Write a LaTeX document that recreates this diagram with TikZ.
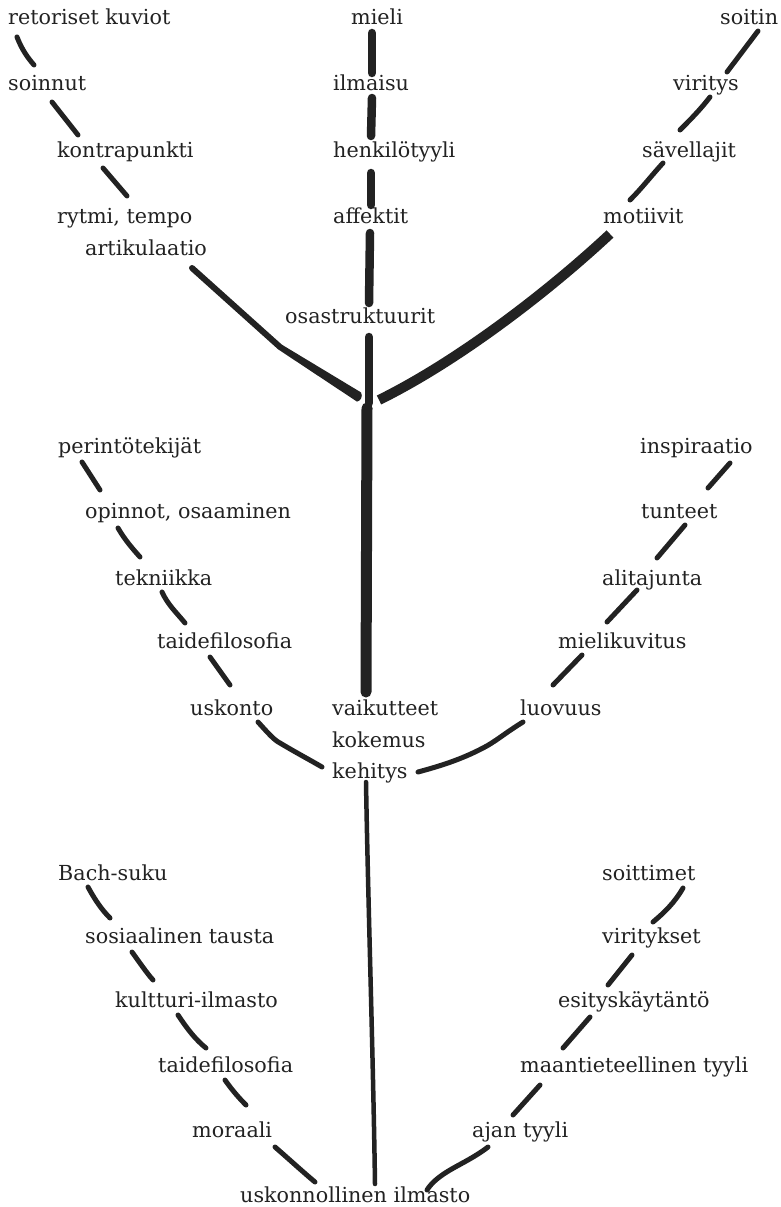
\documentclass[tikz,border=0pt]{standalone}
\usepackage{fontspec}
\newfontfamily\lbfont{DejaVu Serif}
\definecolor{ink}{HTML}{222222}
\begin{document}
\begin{tikzpicture}[x=1pt,y=-1pt,
  lbl/.style={anchor=base west, inner sep=0pt, font=\lbfont\fontsize{20.7}{22}\selectfont, text=ink},
  twig/.style={draw=ink, line width=5pt, line cap=round, line join=round},
  stem/.style={draw=ink, line width=8.5pt, line cap=round, line join=round},
  trunk/.style={draw=ink, line width=11pt, line cap=round, line join=round},
  root/.style={draw=ink, line width=4.5pt, line cap=round, line join=round}]
\useasboundingbox (0,0) rectangle (780,1207);
% ---------- labels: top left
\node[lbl] (ret) at (8,25) {retoriset kuviot};
\node[lbl] (soi) at (8,90) {soinnut};
\node[lbl] (kon) at (57,157) {kontrapunkti};
\node[lbl] (ryt) at (57,223) {rytmi, tempo};
\node[lbl] (art) at (85,255) {artikulaatio};
% top centre
\node[lbl] (mie) at (351,25) {mieli};
\node[lbl] (ilm) at (333,90) {ilmaisu};
\node[lbl] (hen) at (333,157) {henkilötyyli};
\node[lbl] (aff) at (333,223) {affektit};
\node[lbl] (osa) at (285,323) {osastruktuurit};
% top right
\node[lbl] (sot) at (720,25) {soitin};
\node[lbl] (vir) at (673,90) {viritys};
\node[lbl] (sav) at (642,157) {sävellajit};
\node[lbl] (mot) at (603,223) {motiivit};
% middle left
\node[lbl] (per) at (58,453) {perintötekijät};
\node[lbl] (opi) at (85,518) {opinnot, osaaminen};
\node[lbl] (tek) at (115,585) {tekniikka};
\node[lbl] (tai) at (157,648) {taidefilosofia};
\node[lbl] (usk) at (190,715) {uskonto};
% middle centre
\node[lbl] (vai) at (332,715) {vaikutteet};
\node[lbl] (kok) at (332,747) {kokemus};
\node[lbl] (keh) at (332,778) {kehitys};
% middle right
\node[lbl] (ins) at (640,453) {inspiraatio};
\node[lbl] (tun) at (641,518) {tunteet};
\node[lbl] (ali) at (602,585) {alitajunta};
\node[lbl] (mik) at (558,648) {mielikuvitus};
\node[lbl] (luo) at (520,715) {luovuus};
% bottom left
\node[lbl] (bac) at (58,880) {Bach-suku};
\node[lbl] (sos) at (85,943) {sosiaalinen tausta};
\node[lbl] (kul) at (115,1007) {kultturi-ilmasto};
\node[lbl] (ta2) at (158,1072) {taidefilosofia};
\node[lbl] (mor) at (192,1137) {moraali};
\node[lbl] (uil) at (240,1202) {uskonnollinen ilmasto};
% bottom right
\node[lbl] (sti) at (602,880) {soittimet};
\node[lbl] (vik) at (602,943) {viritykset};
\node[lbl] (esi) at (558,1007) {esityskäytäntö};
\node[lbl] (maa) at (520,1072) {maantieteellinen tyyli};
\node[lbl] (aja) at (472,1137) {ajan tyyli};

% ---------- junction points
\coordinate (jtop) at (369,403);
\coordinate (jbot) at (367,408);

% top left twigs
\draw[twig] (17,37) .. controls (22,50) and (28,58) .. (34,65);
\draw[twig] (52,102) -- (78,135);
\draw[twig] (103,168) -- (127,196);
\draw[twig, line width=6pt] (192,268) -- (280,347);
\fill[ink] (278.4,349.5) -- (281.6,344.5) -- (361.0,392.4) .. controls (363,396) and (361,401) .. (357,401.6) -- cycle;
% top centre stems
\draw[stem] (372,33) -- (372,73);
\draw[stem] (372,98) -- (371,136);
\draw[stem] (371,173) -- (371,205);
\draw[stem] (370,233) -- (369,303);
\draw[stem] (369,337) -- (jtop);
% top right twigs
\draw[twig] (758,31) -- (727,72);
\draw[twig] (710,97) .. controls (700,110) and (690,120) .. (680,130);
\draw[twig] (663,163) .. controls (652,175) and (642,188) .. (630,200);
\draw[trunk, line width=10pt, line cap=butt] (610,234) .. controls (550,290) and (460,360) .. (379,400);
% main trunk
\draw[trunk] (jbot) -- (366,692);
% middle left twigs
\draw[twig] (82,462) -- (100,490);
\draw[twig] (118,528) .. controls (125,540) and (132,548) .. (140,557);
\draw[twig] (162,592) .. controls (168,605) and (176,612) .. (185,623);
\draw[twig] (210,657) -- (230,685);
\draw[twig] (258,722) .. controls (268,733) and (274,740) .. (280,743) .. controls (295,752) and (310,760) .. (322,767);
% middle right twigs
\draw[twig] (730,463) -- (708,488);
\draw[twig] (685,525) -- (657,558);
\draw[twig] (637,590) -- (607,622);
\draw[twig] (582,655) -- (553,685);
\draw[twig] (523,722) .. controls (505,733) and (495,742) .. (483,748) .. controls (460,760) and (440,766) .. (418,772);
% lower trunk
\draw[root] (366,782) .. controls (368,900) and (373,1050) .. (375,1184);
% bottom left twigs
\draw[twig] (88,887) .. controls (95,900) and (102,910) .. (110,918);
\draw[twig] (132,952) .. controls (140,963) and (146,972) .. (153,980);
\draw[twig] (178,1015) .. controls (188,1030) and (196,1040) .. (206,1048);
\draw[twig] (225,1080) .. controls (232,1090) and (239,1098) .. (246,1105);
\draw[twig] (275,1147) .. controls (290,1160) and (303,1172) .. (315,1182);
% bottom right twigs
\draw[twig] (683,888) .. controls (675,902) and (665,912) .. (653,922);
\draw[twig] (632,955) -- (608,985);
\draw[twig] (590,1017) -- (563,1048);
\draw[twig] (540,1085) -- (513,1115);
\draw[twig] (488,1147) .. controls (475,1157) and (462,1163) .. (450,1170) .. controls (440,1176) and (432,1182) .. (427,1190);
\end{tikzpicture}
\end{document}
